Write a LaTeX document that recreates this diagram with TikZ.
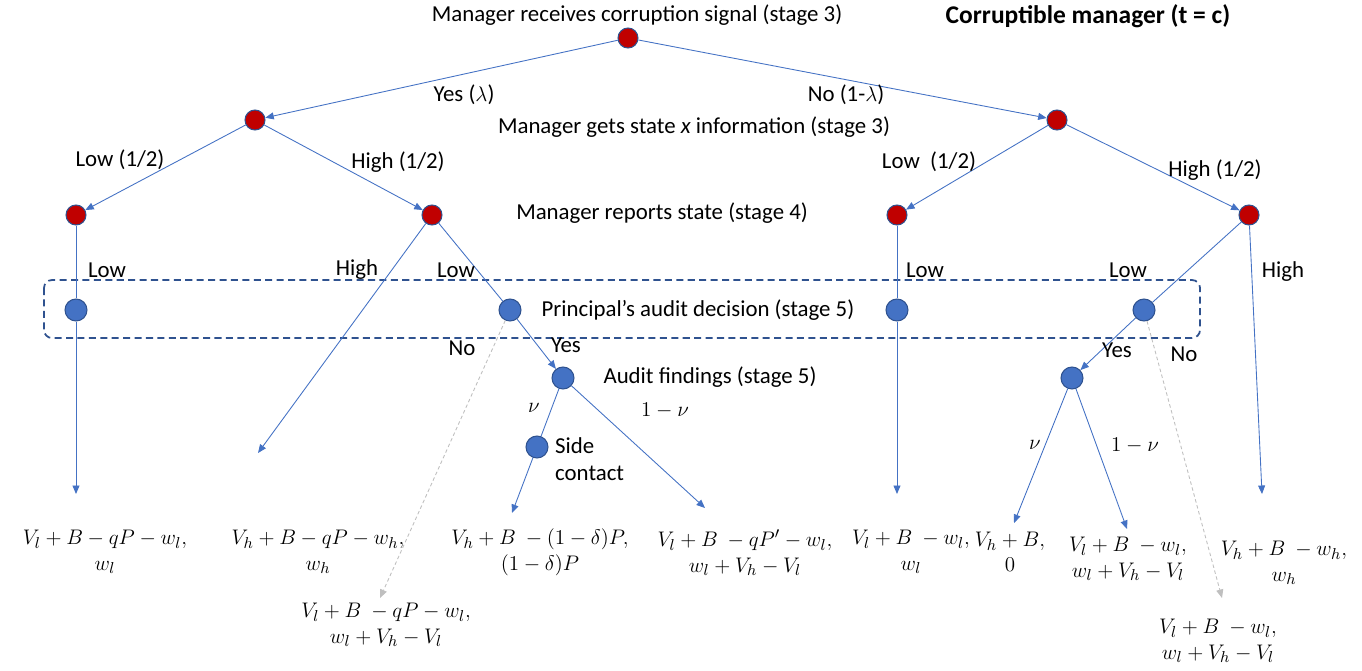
\documentclass[tikz,border=0pt]{standalone}
\usepackage{fontspec}
\setmainfont{Carlito}
\usepackage{amsmath}
\usetikzlibrary{arrows.meta}
\definecolor{edgeblue}{HTML}{4472C4}
\definecolor{rimblue}{HTML}{2F528F}
\definecolor{mgrred}{HTML}{C00000}
\definecolor{nogray}{HTML}{BFBFBF}
\tikzset{
  mgr/.style={circle,draw=rimblue,fill=mgrred,line width=0.6pt,inner sep=0pt,minimum size=0.4cm},
  prc/.style={circle,draw=rimblue,fill=edgeblue,line width=0.6pt,inner sep=0pt,minimum size=0.44cm},
  edge/.style={edgeblue,line width=0.5pt},
  arr/.style={edge,-{Triangle[length=0.17cm,width=0.14cm]}},
  nopath/.style={nogray,line width=0.5pt,dash pattern=on 2pt off 1.5pt,-{Triangle[length=0.17cm,width=0.14cm]}},
  infoset/.style={rimblue,line width=1pt,dash pattern=on 4pt off 2.5pt,rounded corners=0.16cm},
  pay/.style={align=center,font=\fontsize{13}{14.5}\selectfont,inner sep=0pt},
  prob/.style={font=\fontsize{13}{15}\selectfont,inner sep=0pt}
}
\begin{document}
\begin{tikzpicture}[x=0.02cm,y=-0.02cm,font=\fontsize{13}{15}\selectfont]
\useasboundingbox (0,0) rectangle (1362,670);

% decision nodes
\node[mgr] (root) at (628,38) {};
\node[mgr] (yes) at (255,120) {};
\node[mgr] (no) at (1057,120) {};
\node[mgr] (yl) at (76,215) {};
\node[mgr] (yh) at (432,215) {};
\node[mgr] (nl) at (897,215) {};
\node[mgr] (nh) at (1249,215) {};
\node[prc] (a1) at (76,310) {};
\node[prc] (a2) at (510,310) {};
\node[prc] (a3) at (897,310) {};
\node[prc] (a4) at (1144,310) {};
\node[prc] (f1) at (563,378) {};
\node[prc] (f2) at (1072,378) {};
\node[prc] (side) at (537,447) {};

% end points
\coordinate (t1) at (76,494);
\coordinate (t2) at (258,453);
\coordinate (t3) at (380,598);
\coordinate (t4) at (512,513);
\coordinate (t5) at (705,508);
\coordinate (t6) at (897,494);
\coordinate (t7) at (1014,523);
\coordinate (t8) at (1127,529);
\coordinate (t9) at (1262,494);
\coordinate (t10) at (1222,598);

\draw[infoset] (44,280) rectangle (1200,338);

\draw[arr] (root) -- (yes);
\draw[arr] (root) -- (no);
\draw[arr] (yes) -- (yl);
\draw[arr] (yes) -- (yh);
\draw[arr] (no) -- (nl);
\draw[arr] (no) -- (nh);
\draw[edge] (yl) -- (a1);
\draw[arr] (a1) -- (t1);
\draw[arr] (yh) -- (t2);
\draw[edge] (yh) -- (a2);
\draw[arr] (a2) -- (f1);
\draw[nopath] (a2) -- (t3);
\draw[edge] (f1) -- (side);
\draw[arr] (side) -- (t4);
\draw[arr] (f1) -- (t5);
\draw[edge] (nl) -- (a3);
\draw[arr] (a3) -- (t6);
\draw[edge] (nh) -- (a4);
\draw[arr] (a4) -- (f2);
\draw[nopath] (a4) -- (t10);
\draw[arr] (f2) -- (t7);
\draw[arr] (f2) -- (t8);
\draw[arr] (nh) -- (t9);

% stage texts
\node (sig) at (637,15) {Manager receives corruption signal (stage 3)};
\node[font=\fontsize{14.5}{16}\bfseries] (title) at (1088,16) {Corruptible manager (t = c)};
\node (info) at (694,127) {Manager gets state \textit{x} information (stage 3)};
\node (rep) at (662,213) {Manager reports state (stage 4)};
\node (aud) at (698,310) {Principal’s audit decision (stage 5)};
\node (find) at (710,377) {Audit findings (stage 5)};
\node[align=left,anchor=west] (sidelab) at (549,459) {Side\\contact};

% branch labels
\node (lyes) at (464,95) {Yes ($\lambda$)};
\node (lno) at (846,95) {No (1-$\lambda$)};
\node (lyl) at (120,160) {Low (1/2)};
\node (lyh) at (398,162) {High (1/2)};
\node (lnl) at (929,162) {Low\ \ (1/2)};
\node (lnh) at (1215,170) {High (1/2)};
\node (r1) at (107,270) {Low};
\node (r2) at (357,270) {High};
\node (r3) at (456,270) {Low};
\node (r4) at (925,270) {Low};
\node (r5) at (1128,270) {Low};
\node (r6) at (1283,272) {High};
\node (d1) at (462,348) {No};
\node (d2) at (566,345) {Yes};
\node (d3) at (1117,350) {Yes};
\node (d4) at (1184,354) {No};
\node[prob] (n1) at (534,408) {$\nu$};
\node[prob] (n2) at (665,411) {$1-\nu$};
\node[prob] (n3) at (1035,445) {$\nu$};
\node[prob] (n4) at (1135,446) {$1-\nu$};

% payoffs
\node[pay] (p1) at (105,552) {$V_l+B-qP-w_l,$\\$w_l$};
\node[pay] (p2) at (318,552) {$V_h+B-qP-w_h,$\\$w_h$};
\node[pay] (p3) at (540,552) {$V_h+B\ -(1-\delta)P,$\\$(1-\delta)P$};
\node[pay] (p4) at (745,553) {$V_l+B\ -qP'-w_l,$\\$w_l+V_h-V_l$};
\node[pay] (p5) at (386,625) {$V_l+B\ -qP-w_l,$\\$w_l+V_h-V_l$};
\node[pay] (p6) at (911,552) {$V_l+B\ -w_l,$\\$w_l$};
\node[pay] (p7) at (1010,552) {$V_h+B,$\\$0$};
\node[pay] (p8) at (1128,559) {$V_l+B\ -w_l,$\\$w_l+V_h-V_l$};
\node[pay] (p9) at (1284,563) {$V_h+B\ -w_h,$\\$w_h$};
\node[pay] (p10) at (1218,641) {$V_l+B\ -w_l,$\\$w_l+V_h-V_l$};
\end{tikzpicture}
\end{document}
